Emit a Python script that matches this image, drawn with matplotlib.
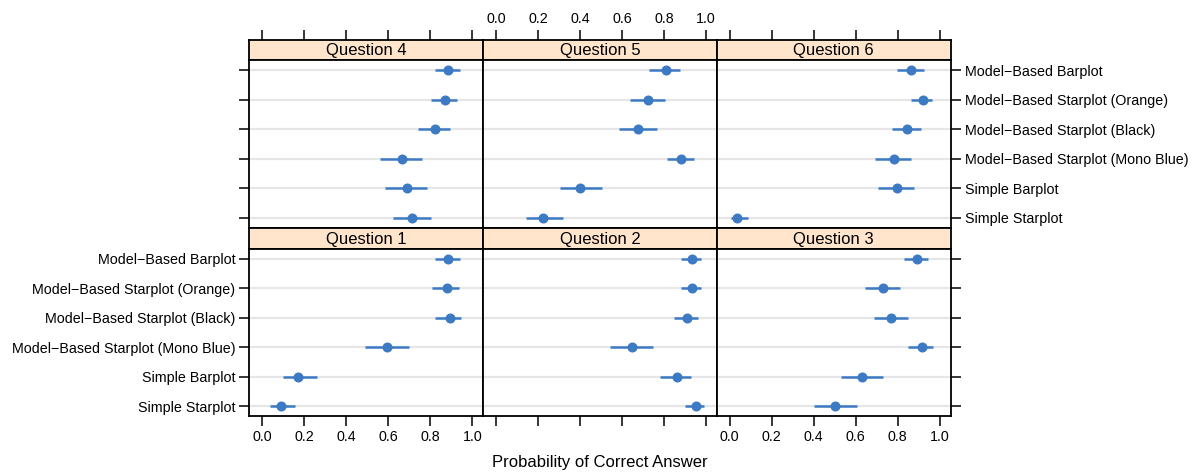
import numpy as np
import matplotlib
matplotlib.use('Agg')
import matplotlib.pyplot as plt

plt.rcParams['font.family'] = ['Liberation Sans', 'DejaVu Sans']

# plot types, listed from top to bottom within each panel
plot_types = ['Model\u2212Based Barplot', 'Model\u2212Based Starplot (Orange)',
              'Model\u2212Based Starplot (Black)', 'Model\u2212Based Starplot (Mono Blue)',
              'Simple Barplot', 'Simple Starplot']

# estimates and confidence limits per question (same order as plot_types)
q1_est = [0.884, 0.877, 0.892, 0.595, 0.170, 0.087]
q1_lo = [0.820, 0.807, 0.823, 0.491, 0.097, 0.035]
q1_hi = [0.941, 0.935, 0.947, 0.696, 0.258, 0.156]

q2_est = [0.935, 0.935, 0.911, 0.649, 0.862, 0.954]
q2_lo = [0.883, 0.883, 0.848, 0.543, 0.779, 0.902]
q2_hi = [0.978, 0.978, 0.962, 0.749, 0.927, 0.989]

q3_est = [0.892, 0.730, 0.770, 0.916, 0.630, 0.503]
q3_lo = [0.829, 0.646, 0.686, 0.848, 0.529, 0.402]
q3_hi = [0.946, 0.813, 0.851, 0.970, 0.732, 0.606]

q4_est = [0.885, 0.869, 0.820, 0.663, 0.688, 0.714]
q4_lo = [0.820, 0.801, 0.739, 0.559, 0.586, 0.620]
q4_hi = [0.943, 0.928, 0.892, 0.761, 0.785, 0.804]

q5_est = [0.808, 0.724, 0.676, 0.883, 0.400, 0.222]
q5_lo = [0.727, 0.640, 0.584, 0.813, 0.302, 0.143]
q5_hi = [0.879, 0.806, 0.765, 0.944, 0.503, 0.317]

q6_est = [0.864, 0.921, 0.846, 0.783, 0.795, 0.037]
q6_lo = [0.797, 0.862, 0.771, 0.690, 0.706, 0.008]
q6_hi = [0.927, 0.963, 0.910, 0.864, 0.875, 0.086]

x_ticks = [0.0, 0.2, 0.4, 0.6, 0.8, 1.0]
x_ticklabels = ['0.0', '0.2', '0.4', '0.6', '0.8', '1.0']

panels = [
    # title, est, lo, hi, row (0 = top), col
    ('Question 4', q4_est, q4_lo, q4_hi, 0, 0),
    ('Question 5', q5_est, q5_lo, q5_hi, 0, 1),
    ('Question 6', q6_est, q6_lo, q6_hi, 0, 2),
    ('Question 1', q1_est, q1_lo, q1_hi, 1, 0),
    ('Question 2', q2_est, q2_lo, q2_hi, 1, 1),
    ('Question 3', q3_est, q3_lo, q3_hi, 1, 2),
]

W, H = 1195, 472
fig = plt.figure(figsize=(W / 100, H / 100), dpi=100)

col_edges = [249.3, 483.3, 716.7, 950.7]
# (strip top, panel top, panel bottom) in pixels
row_edges = [(39.7, 60.0, 228.0), (228.0, 249.0, 416.0)]

blue = '#3D7AC4'
n = len(plot_types)
ypos = np.arange(n)
xlim = (-0.062, 1.052)

for title, est, lo, hi, row, col in panels:
    x0, x1 = col_edges[col], col_edges[col + 1]
    st, pt, pb = row_edges[row]
    top_row = row == 0

    # strip
    sax = fig.add_axes([x0 / W, 1 - pt / H, (x1 - x0) / W, (pt - st) / H])
    sax.set_facecolor('#FFE5CC')
    sax.set_xlim(xlim)
    sax.set_yticks([])
    for s in sax.spines.values():
        s.set_linewidth(1.3)
    sax.text(0.5, 0.45, title, ha='center', va='center', fontsize=12,
             transform=sax.transAxes)
    if top_row:
        # top axis sits above the strips
        sax.set_xticks(x_ticks)
        sax.set_xticklabels(x_ticklabels, fontsize=10.3)
        sax.tick_params(axis='x', top=True, bottom=False, labelbottom=False,
                        labeltop=(col == 1), direction='out', length=7,
                        width=1.1, pad=3)
    else:
        sax.set_xticks([])

    # panel
    ax = fig.add_axes([x0 / W, 1 - pb / H, (x1 - x0) / W, (pb - pt) / H])
    for s in ax.spines.values():
        s.set_linewidth(1.3)
    for y in ypos:
        ax.axhline(y, color='#E6E6E6', lw=1.6, zorder=1)
    ax.hlines(ypos, lo, hi, color=blue, lw=1.8, zorder=2)
    ax.plot(est, ypos, 'o', color=blue, ms=6.2, zorder=3)
    ax.set_xlim(xlim)
    ax.set_ylim(n - 1 + 0.34, -0.34)

    ax.set_yticks(ypos)
    ax.set_yticklabels(plot_types, fontsize=10.3)
    if top_row:
        ax.set_xticks([])
    else:
        ax.set_xticks(x_ticks)
        ax.set_xticklabels(x_ticklabels, fontsize=10.3)
    ax.tick_params(axis='both', direction='out', length=7, width=1.1, pad=3)
    ax.tick_params(axis='x', top=False, bottom=not top_row,
                   labeltop=False, labelbottom=(not top_row and col != 1))
    ax.tick_params(axis='y', left=(col == 0), right=(col == 2),
                   labelleft=(col == 0 and not top_row),
                   labelright=(col == 2 and top_row))

fig.text(((col_edges[0] + col_edges[3]) / 2) / W, 1 - 462 / H,
         'Probability of Correct Answer', ha='center', va='center', fontsize=12)

fig.savefig('out.png', dpi=100)
